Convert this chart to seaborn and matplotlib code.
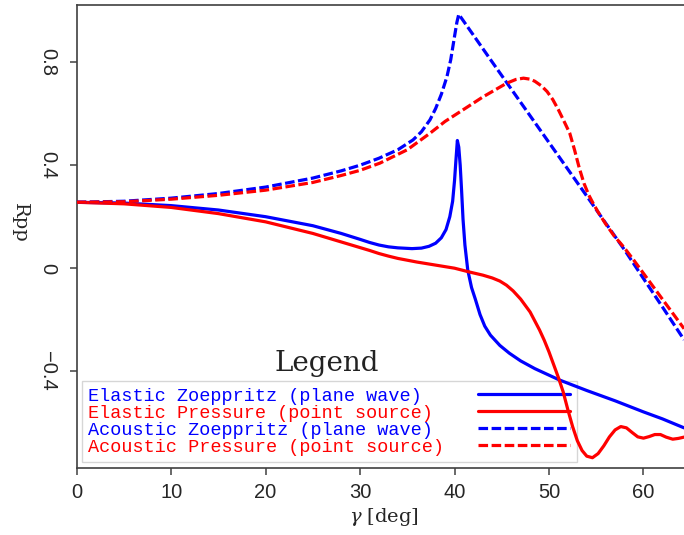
import matplotlib
matplotlib.use("Agg")
import matplotlib.pyplot as plt
import seaborn as sns

# incidence angle [deg] and Rpp
ang_ez = [0, 5, 10, 15, 20, 25, 28, 30, 31, 32, 33, 34, 35.5, 36.5, 37.3, 38, 38.6,
          39.1, 39.5, 39.8, 40.0, 40.15, 40.3, 40.45, 40.6, 40.75, 40.9, 41.1, 41.4,
          41.8, 42.2, 42.7, 43.2, 43.8, 44.8, 45.8, 47, 48.5, 51.1, 54, 57, 60, 62, 64.3]
rpp_ez = [0.256, 0.253, 0.243, 0.226, 0.2, 0.165, 0.135, 0.112, 0.1, 0.09, 0.083,
          0.079, 0.076, 0.078, 0.085, 0.097, 0.118, 0.15, 0.2, 0.26, 0.34, 0.42, 0.496,
          0.47, 0.40, 0.30, 0.19, 0.09, -0.007, -0.075, -0.12, -0.18, -0.225, -0.26,
          -0.30, -0.33, -0.36, -0.39, -0.434, -0.475, -0.515, -0.558, -0.585, -0.62]

ang_ep = [0, 5, 10, 15, 20, 25, 28, 30, 31, 32, 33, 34, 36, 38, 40, 41.6, 43, 44, 44.8,
          45.5, 46.2, 47, 48, 49, 49.5, 50, 50.5, 51, 51.5, 52, 52.5, 53, 53.5, 54,
          54.6, 55.2, 55.8, 56.4, 57, 57.6, 58.2, 58.8, 59.4, 60, 60.6, 61.2, 61.8,
          62.4, 63.1, 63.7, 64.3]
rpp_ep = [0.256, 0.25, 0.236, 0.212, 0.18, 0.135, 0.102, 0.08, 0.069, 0.057, 0.047,
          0.038, 0.024, 0.012, 0.0, -0.015, -0.027, -0.038, -0.05, -0.066, -0.088,
          -0.12, -0.17, -0.24, -0.28, -0.325, -0.375, -0.425, -0.48, -0.55, -0.615,
          -0.67, -0.708, -0.73, -0.736, -0.72, -0.69, -0.655, -0.628, -0.615, -0.62,
          -0.638, -0.655, -0.66, -0.654, -0.646, -0.646, -0.656, -0.664, -0.661, -0.656]

ang_az = [0, 5, 10, 15, 20, 25, 28, 30, 32, 34, 35.6, 36.5, 37.4, 38, 38.6, 39.2, 39.6,
          40.0, 40.25, 40.45, 42, 44, 46, 48, 50, 52, 54, 56, 58, 60, 62, 64.3]
rpp_az = [0.256, 0.26, 0.272, 0.29, 0.315, 0.35, 0.378, 0.4, 0.427, 0.46, 0.498, 0.53,
          0.576, 0.62, 0.675, 0.744, 0.81, 0.9, 0.955, 0.986, 0.905, 0.8, 0.696, 0.592,
          0.488, 0.384, 0.28, 0.175, 0.071, -0.04, -0.15, -0.278]

ang_ap = [0, 5, 10, 15, 20, 25, 28, 30, 32.1, 35, 37.4, 39, 40.9, 43, 45.5, 46.5, 47.3,
          48, 48.5, 49.2, 49.8, 50.4, 51, 51.6, 52.2, 52.7, 53.2, 53.7, 54.2, 54.7,
          55.2, 56, 57, 57.5, 58, 59, 60, 61, 62, 63, 64.3]
rpp_ap = [0.256, 0.258, 0.268, 0.283, 0.303, 0.333, 0.36, 0.38, 0.408, 0.46, 0.524,
          0.57, 0.615, 0.665, 0.718, 0.733, 0.738, 0.734, 0.726, 0.708, 0.686, 0.655,
          0.615, 0.57, 0.524, 0.46, 0.39, 0.33, 0.285, 0.25, 0.218, 0.172, 0.12, 0.1,
          0.078, 0.03, -0.02, -0.07, -0.12, -0.17, -0.235]

labels = ["Elastic Zoeppritz (plane wave)", "Elastic Pressure (point source)",
          "Acoustic Zoeppritz (plane wave)", "Acoustic Pressure (point source)"]
colors = ["blue", "red", "blue", "red"]
styles = ["-", "-", (0, (3, 1.1)), (0, (3, 1.1))]

xticks = [0, 10, 20, 30, 40, 50, 60]
yticks = [-0.4, 0, 0.4, 0.8]
ytick_labels = ["\u22120.4", "0", "0.4", "0.8"]

sns.set_style("ticks")
plt.rcParams["font.family"] = ["Liberation Sans", "DejaVu Sans"]
plt.rcParams["mathtext.fontset"] = "dejavuserif"

fig = plt.figure(figsize=(6.84, 5.35), dpi=100)
ax = fig.add_axes([0.1121, 0.1252, 0.888, 0.8654])

# monospace legend font: pad labels so the texts line up on the left
width = max(len(s) for s in labels)
curves = [(ang_ez, rpp_ez), (ang_ep, rpp_ep), (ang_az, rpp_az), (ang_ap, rpp_ap)]
for (xx, yy), lab, c, ls in zip(curves, labels, colors, styles):
    sns.lineplot(x=xx, y=yy, ax=ax, color=c, linestyle=ls, linewidth=2.3,
                 label=lab.ljust(width), sort=False, estimator=None, zorder=3)

ax.set_xlim(0, 64.3)
ax.set_ylim(-0.776, 1.022)
ax.set_xticks(xticks)
ax.set_yticks(yticks)
ax.set_yticklabels(ytick_labels)

for side in ["left", "bottom", "top"]:
    ax.spines[side].set_linewidth(1.2)
    ax.spines[side].set_color("#404040")
ax.spines["right"].set_visible(False)
ax.tick_params(direction="out", length=5, width=1.1, color="#404040",
               labelsize=14.5, pad=6)
ax.tick_params(axis="y", labelrotation=-90, pad=9)
for t in ax.get_yticklabels():
    t.set_va("center")

ax.set_xlabel(r"$\gamma$ [deg]", family="DejaVu Serif", fontsize=14, va="center")
ax.xaxis.set_label_coords(0.506, -0.106)
ax.set_ylabel("Rpp", family="DejaVu Serif", fontsize=14, rotation=-90,
              va="center", ha="center")
ax.yaxis.set_label_coords(-0.093, 0.53)

leg = ax.legend(loc="lower left", bbox_to_anchor=(0.0087, 0.013), borderaxespad=0,
                markerfirst=False, handlelength=5.0, handletextpad=1.8,
                labelspacing=0.0, borderpad=0.35,
                prop={"family": "Liberation Mono", "size": 13.3},
                labelcolor="linecolor", frameon=True, fancybox=False,
                edgecolor="#cccccc", facecolor="none")
leg.set_zorder(1)

ax.text(0.412, 0.210, "Legend", transform=ax.transAxes, ha="center", va="baseline",
        family="DejaVu Serif", fontsize=20, color="#222222")

fig.savefig("out.png", dpi=100)
